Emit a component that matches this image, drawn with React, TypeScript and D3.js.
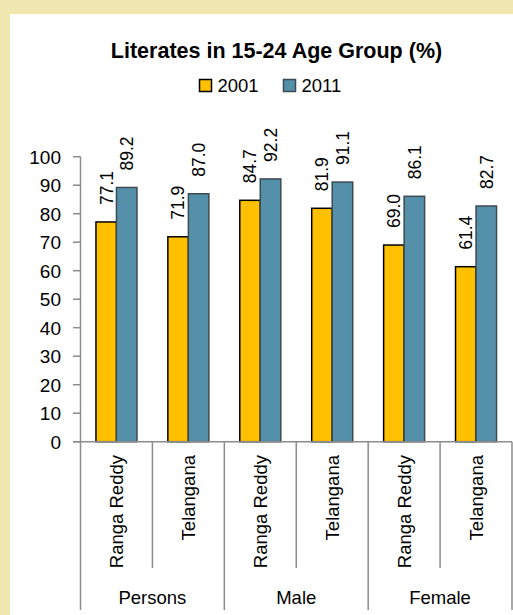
import React from "react";
import * as d3 from "d3";

const categories = ["Ranga Reddy", "Telangana", "Ranga Reddy", "Telangana", "Ranga Reddy", "Telangana"];
const groups = ["Persons", "Male", "Female"];
const seriesNames = ["2001", "2011"];
const values2001 = [77.1, 71.9, 84.7, 81.9, 69.0, 61.4];
const values2011 = [89.2, 87.0, 92.2, 91.1, 86.1, 82.7];
const yTicks = [0, 10, 20, 30, 40, 50, 60, 70, 80, 90, 100];

const W = 513;
const H = 615;
const FONT = "'Liberation Sans', Arial, sans-serif";
const COLORS = ["#FFC000", "#5590AB"];
const STROKES = ["#000000", "#3C4A52"];

export default function App() {
  const x0 = 80.5;
  const x1 = 512;
  const yBase = 441.7;
  const yTop = 156.7;
  const y = d3.scaleLinear().domain([0, 100]).range([yBase, yTop]);
  const idx = categories.map((_, i) => String(i));
  const xCat = d3.scaleBand<string>().domain(idx).range([x0, x1]).padding(0);
  const bw = xCat.bandwidth();
  const barW = 20.5;
  const xSeries = d3.scaleBand<string>().domain(seriesNames).range([0, barW * 2]).padding(0);
  const series = [values2001, values2011];
  const groupScale = d3.scaleBand<string>().domain(groups).range([x0, x1]).padding(0);

  return (
    <div style={{ position: "fixed", left: 0, top: 0, width: W, height: H }}>
      <svg width={W} height={H} style={{ display: "block" }}>
        <rect x={0} y={0} width={W} height={H} fill="#F0E6AF" />
        <rect x={10} y={14} width={W - 10} height={H - 14} fill="#ffffff" />
        <text x={276.5} y={58} textAnchor="middle" fontFamily={FONT} fontWeight="bold" fontSize={21.5} fill="#000">
          Literates in 15-24 Age Group (%)
        </text>
        {seriesNames.map((s, i) => {
          const lx = 199.5 + i * 84;
          return (
            <g key={s}>
              <rect x={lx} y={79.5} width={12} height={12} fill={COLORS[i]} stroke={STROKES[i]} strokeWidth={1.5} />
              <text x={lx + 18} y={92} fontFamily={FONT} fontSize={18.5} fill="#000">{s}</text>
            </g>
          );
        })}
        {/* y axis */}
        <line x1={80.5} x2={80.5} y1={yTop} y2={yBase} stroke="#8c8c8c" strokeWidth={1.5} />
        {yTicks.map((t) => (
          <g key={t}>
            <line x1={73} x2={80.5} y1={y(t)} y2={y(t)} stroke="#8c8c8c" strokeWidth={1.5} />
            <text x={61} y={y(t)} dy="0.36em" textAnchor="end" fontFamily={FONT} fontSize={19} fill="#000">{t}</text>
          </g>
        ))}
        {/* bars */}
        {categories.map((c, i) => {
          const cx = (xCat(String(i)) as number) + bw / 2;
          const start = cx - barW;
          return (
            <g key={i}>
              {series.map((vals, si) => {
                const bx = start + (xSeries(seriesNames[si]) as number);
                const v = vals[i];
                return (
                  <g key={si}>
                    <rect x={bx} y={y(v)} width={barW} height={yBase - y(v)} fill={COLORS[si]} stroke={STROKES[si]} strokeWidth={1.5} />
                    <text
                      transform={`translate(${bx + barW / 2},${y(v) - 17}) rotate(-90)`}
                      dy="0.36em"
                      textAnchor="start"
                      fontFamily={FONT}
                      fontSize={17.5}
                      fill="#000"
                    >
                      {v.toFixed(1)}
                    </text>
                  </g>
                );
              })}
              <text
                transform={`translate(${cx},455) rotate(-90)`}
                dy="0.36em"
                textAnchor="end"
                fontFamily={FONT}
                fontSize={18.5}
                fill="#000"
              >
                {c}
              </text>
            </g>
          );
        })}
        {/* x axis */}
        <line x1={73} x2={x1} y1={yBase} y2={yBase} stroke="#8c8c8c" strokeWidth={1.5} />
        {categories.map((_, i) =>
          i % 2 === 1 ? (
            <line key={"s" + i} x1={xCat(String(i))} x2={xCat(String(i))} y1={yBase} y2={568} stroke="#8c8c8c" strokeWidth={1.5} />
          ) : null
        )}
        {[...groups.map((g) => groupScale(g) as number), x1].map((gx, i) => (
          <line key={"g" + i} x1={gx} x2={gx} y1={yBase} y2={610} stroke="#8c8c8c" strokeWidth={1.5} />
        ))}
        {groups.map((g) => (
          <text
            key={g}
            x={(groupScale(g) as number) + groupScale.bandwidth() / 2}
            y={604}
            textAnchor="middle"
            fontFamily={FONT}
            fontSize={18.5}
            fill="#000"
          >
            {g}
          </text>
        ))}
      </svg>
    </div>
  );
}
